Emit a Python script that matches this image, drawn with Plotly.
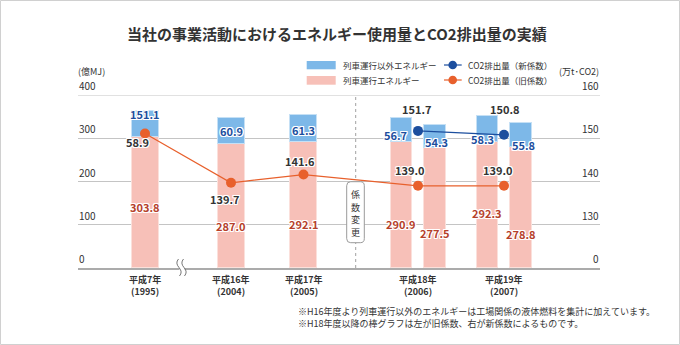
import plotly.graph_objects as go

# ---------------- data ----------------
categories = ["平成7年", "平成16年", "平成17年", "平成18年", "平成19年"]
years = ["(1995)", "(2004)", "(2005)", "(2006)", "(2007)"]
train_energy_old = [303.8, 287.0, 292.1, 290.9, 292.3]     # 列車運行エネルギー (左/単独棒)
other_energy_old = [58.9, 60.9, 61.3, 56.7, 58.3]          # 列車運行以外エネルギー
train_energy_new = [None, None, None, 277.5, 278.8]        # 新係数 (右棒)
other_energy_new = [None, None, None, 54.3, 55.8]
co2_old = [151.1, 139.7, 141.6, 139.0, 139.0]              # CO2排出量(旧係数)
co2_new = [None, None, None, 151.7, 150.8]                 # CO2排出量(新係数)
left_ticks = [0, 100, 200, 300, 400]
right_tickvals = [120, 130, 140, 150, 160]
right_ticktext = ["0", "130", "140", "150", "160"]

# ---------------- layout constants ----------------
W, H = 680, 345
ML, MR, MT, MB = 78, 80, 95, 77
PW, PH = W - ML - MR, H - MT - MB
cat_x = [67, 153, 225.5, 340, 426]
pair_off = 16.75
w_single, w_pair = 27, 21.5

PINK = "#F7C0B8"
BLUE = "#7DB8E8"
ORANGE = "#E8602C"
NAVY = "#1C4E9E"
TXT = "#333333"
FONT = "Noto Sans CJK JP"
HALO = "1px 1px 0 #fff, -1px -1px 0 #fff, 1px -1px 0 #fff, -1px 1px 0 #fff, 0 1px 0 #fff, 0 -1px 0 #fff, 1px 0 0 #fff, -1px 0 0 #fff"


def P(px, py):
    return (px - ML) / PW, (H - MB - py) / PH


# bar positions
bx, bw, b_train, b_other = [], [], [], []
for i, cx in enumerate(cat_x):
    if train_energy_new[i] is None:
        bx.append(cx); bw.append(w_single)
        b_train.append(train_energy_old[i]); b_other.append(other_energy_old[i])
    else:
        bx += [cx - pair_off, cx + pair_off]; bw += [w_pair, w_pair]
        b_train += [train_energy_old[i], train_energy_new[i]]
        b_other += [other_energy_old[i], other_energy_new[i]]

fig = go.Figure()
fig.add_bar(x=bx, y=b_train, width=bw, marker=dict(color=PINK, line=dict(color="#FBE0DB", width=1)),
            showlegend=False, hoverinfo="skip")
fig.add_bar(x=bx, y=b_other, width=bw, marker=dict(color=BLUE, line=dict(color="#C5E0F5", width=1)),
            showlegend=False, hoverinfo="skip")

fig.add_scatter(x=cat_x, y=co2_old, yaxis="y2", mode="lines+markers",
                line=dict(color=ORANGE, width=1.2), marker=dict(color=ORANGE, size=10),
                showlegend=False, hoverinfo="skip")
nx = [x for x, v in zip(cat_x, co2_new) if v is not None]
ny = [v for v in co2_new if v is not None]
fig.add_scatter(x=nx, y=ny, yaxis="y2", mode="lines+markers",
                line=dict(color=NAVY, width=1.2), marker=dict(color=NAVY, size=10),
                showlegend=False, hoverinfo="skip")

ann = []


def label(x, y, text, color, size=11, weight="bold"):
    ann.append(dict(x=x, y=y, xref="x", yref="y", text=text, showarrow=False,
                    font=dict(family=FONT, size=size, color=color, weight=weight, shadow=HALO),
                    xanchor="center", yanchor="middle"))


# pink labels (bar centers, label heights on left axis)
pink_label_y = [140, 97, 101.5, 101, 80, 127, 78]
for x, v, ly in zip(bx, b_train, pink_label_y):
    label(x, ly, f"{v:.1f}", "#B5402A")

# blue labels
blue_pos = [(59.3, 292, TXT), (153.7, 316.7, NAVY), (225.3, 319, NAVY),
            (317, 307.5, NAVY), (358.7, 292, NAVY), (404.7, 297.6, NAVY), (445.3, 284.4, NAVY)]
for (x, ly, c), v in zip(blue_pos, b_other):
    label(x, ly, f"{v:.1f}", c)

# CO2 labels
co2_old_pos = [(67.3, 355.4, NAVY), (146.8, 159.5, TXT), (222, 247.4, TXT), (332, 226.6, TXT), (420.3, 226.6, TXT)]
for (x, ly, c), v in zip(co2_old_pos, co2_old):
    label(x, ly, f"{v:.1f}", c)
co2_new_pos = [(339.3, 367), (427, 367)]
for (x, ly), v in zip(co2_new_pos, ny):
    label(x, ly, f"{v:.1f}", TXT)

# category labels (two separate lines)
for cx, c, yv in zip(cat_x, categories, years):
    for txt, py in ((c, 279), (yv, 291.5)):
        ann.append(dict(x=cx, y=P(0, py)[1], xref="x", yref="paper", text=txt, showarrow=False,
                        font=dict(family=FONT, size=9, color=TXT, weight="bold"),
                        xanchor="center", yanchor="middle"))

# axis tick labels (drawn above gridlines at both ends)
for v in left_ticks:
    ann.append(dict(x=0, y=v, xref="paper", yref="y", text=str(v), showarrow=False,
                    font=dict(family=FONT, size=10, color=TXT), xanchor="left", yanchor="bottom",
                    xshift=-1))
for v, t in zip(right_tickvals, right_ticktext):
    ann.append(dict(x=1, y=v, xref="paper", yref="y2", text=t, showarrow=False,
                    font=dict(family=FONT, size=10, color=TXT), xanchor="right", yanchor="bottom",
                    xshift=1))


def text_px(px, py, text, size, anchor="left", color=TXT, weight="normal"):
    x, y = P(px, py)
    ann.append(dict(x=x, y=y, xref="paper", yref="paper", text=text, showarrow=False,
                    font=dict(family=FONT, size=size, color=color, weight=weight),
                    xanchor=anchor, yanchor="middle"))


text_px(336.5, 34, "当社の事業活動におけるエネルギー使用量とCO2排出量の実績", 15, "center", "#333333", "bold")
text_px(340.7, 65.3, "列車運行以外エネルギー", 8.5)
text_px(340.7, 80.3, "列車運行エネルギー", 8.5)
text_px(465.7, 65.3, "CO2排出量（新係数）", 8.5)
text_px(465.7, 80.3, "CO2排出量（旧係数）", 8.5)
text_px(76, 71, "(億MJ)", 9)
text_px(600.5, 71, "(万t･CO2)", 9, "right")
text_px(296, 311, "※H16年度より列車運行以外のエネルギーは工場関係の液体燃料を集計に加えています。", 9)
text_px(296, 323.5, "※H18年度以降の棒グラフは左が旧係数、右が新係数によるものです。", 9)
for k, ch in enumerate("係数変更"):
    text_px(355.5, 194.5 + 12.5 * k, ch, 9, "center")

shapes = []


def rect_px(x0, y0, x1, y1, fill, line=None, layer="above"):
    a, b = P(x0, y0); c, d = P(x1, y1)
    shapes.append(dict(type="rect", xref="paper", yref="paper", x0=a, y0=b, x1=c, y1=d,
                       fillcolor=fill, line=dict(width=0 if line is None else 1, color=line or fill),
                       layer=layer))


def path_px(pts_cmds, color, width=1, fill=None):
    s = ""
    for cmd in pts_cmds:
        if isinstance(cmd, str):
            s += cmd + " "
        else:
            x, y = P(*cmd)
            s += f"{x:.5f},{y:.5f} "
    shapes.append(dict(type="path", xref="paper", yref="paper", path=s.strip(),
                       line=dict(color=color, width=width),
                       fillcolor=fill if fill else "rgba(0,0,0,0)", layer="above"))


# outer border
a, b = P(0.5, 0.5); c, d = P(679.5, 344.5)
shapes.append(dict(type="rect", xref="paper", yref="paper", x0=a, y0=b, x1=c, y1=d,
                   line=dict(color="#D0D0D0", width=1), layer="above"))

# top gridline at 400 (range edge)
shapes.append(dict(type="line", xref="paper", yref="y", x0=0, x1=1, y0=400, y1=400,
                   line=dict(color="#C4C4C4", width=1), layer="below"))

# dotted divider line
shapes.append(dict(type="line", xref="x", yref="y", x0=277.7, x1=277.7, y0=0, y1=400,
                   line=dict(color="#A0A0A0", width=1, dash="dot"), layer="below"))

# 係数変更 rounded box
x0, x1, y0, y1, r = 346.7, 364.3, 181.7, 242.7, 4
path_px(["M", (x0 + r, y0), "L", (x1 - r, y0), "Q", (x1, y0), (x1, y0 + r), "L", (x1, y1 - r),
         "Q", (x1, y1), (x1 - r, y1), "L", (x0 + r, y1), "Q", (x0, y1), (x0, y1 - r), "L", (x0, y0 + r),
         "Q", (x0, y0), (x0 + r, y0), "Z"], "#9A9A9A", 1, "white")

# axis break mark
rect_px(179.5, 265.5, 184.5, 270.5, "white")
for dx in (0, 5):
    path_px(["M", (178.5 + dx, 259), "Q", (175 + dx, 263), (179 + dx, 267.5),
             "Q", (183 + dx, 272), (179.5 + dx, 276)], "#666666", 0.9)

# legend swatches
rect_px(306.7, 61, 335.7, 69.3, BLUE)
rect_px(306.7, 76, 335.7, 84.7, PINK)
for py, col in ((65, NAVY), (80, ORANGE)):
    path_px(["M", (444, py), "L", (461.7, py)], col, 1.2)
    a, b = P(452.7 - 4.3, py - 4.3); c, d = P(452.7 + 4.3, py + 4.3)
    shapes.append(dict(type="circle", xref="paper", yref="paper", x0=a, y0=b, x1=c, y1=d,
                       fillcolor=col, line=dict(color=col, width=0), layer="above"))

fig.update_layout(
    width=W, height=H, margin=dict(l=ML, r=MR, t=MT, b=MB),
    paper_bgcolor="white", plot_bgcolor="white",
    barmode="stack", bargap=0,
    xaxis=dict(range=[0, PW], showticklabels=False, showgrid=False, zeroline=False,
               showline=True, linecolor="#ABABAB", linewidth=2, ticks="", fixedrange=True),
    yaxis=dict(range=[0, 400], tickvals=left_ticks, showticklabels=False,
               showgrid=True, gridcolor="#C4C4C4", gridwidth=1, zeroline=False, showline=False,
               ticks="", fixedrange=True),
    yaxis2=dict(range=[120, 160], tickvals=right_tickvals, showticklabels=False,
                overlaying="y", side="right",
                showgrid=False, zeroline=False, showline=False, ticks="", fixedrange=True),
    annotations=ann, shapes=shapes, showlegend=False,
)

fig.write_html("out.html")
